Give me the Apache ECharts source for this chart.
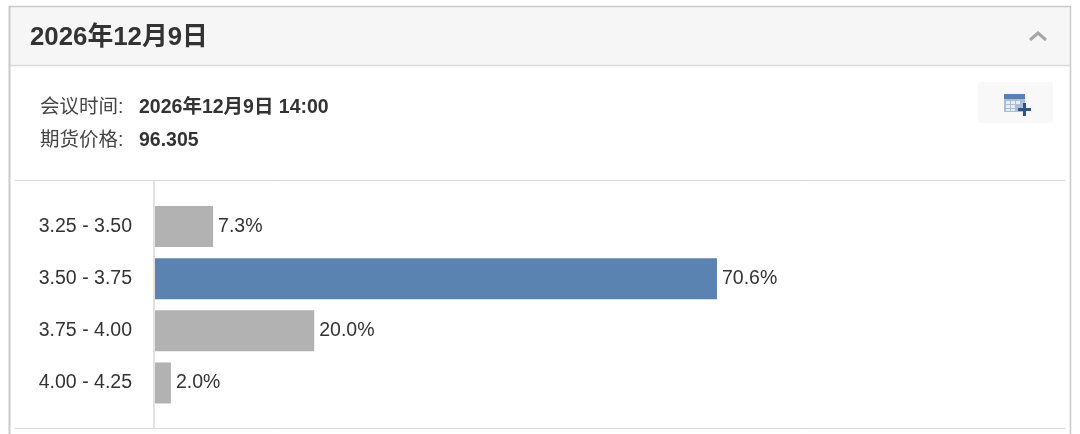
<!DOCTYPE html>
<html><head><meta charset="utf-8">
<style>html,body{margin:0;padding:0;background:#fff}#c{width:1080px;height:434px}</style>
<script src="https://cdn.jsdelivr.net/npm/echarts@6/dist/echarts.min.js"></script>
</head><body><div id="c"></div>
<script>
const categories = ['3.25 - 3.50','3.50 - 3.75','3.75 - 4.00','4.00 - 4.25'];
const probabilities = [7.3,70.6,20.0,2.0];
const highlighted = '3.50 - 3.75';
const titleText = '2026年12月9日';
const metaLabels = ['会议时间:','期货价格:'];
const metaValues = ['2026年12月9日 14:00','96.305'];
const FONT = '"Liberation Sans","Noto Sans CJK SC",sans-serif';
const line = (x1,y1,x2,y2,stroke,w) => ({type:'line',silent:true,shape:{x1,y1,x2,y2},style:{stroke,lineWidth:w||1}});
const rect = (x,y,width,height,fill,r) => ({type:'rect',silent:true,shape:{x,y,width,height,r:r||0},style:{fill}});
const text = (x,y,t,size,weight,fill) => ({type:'text',silent:true,x,y,style:{text:t,font:`${weight} ${size}px ${FONT}`,fill,verticalAlign:'middle'}});
const iconBlue='#5b7fae', iconDark='#2f5680';
const furniture = [
  rect(9,6,1061,59,'#f6f6f6'),
  line(9,6.5,1071,6.5,'#c9c9c9',1.5),
  line(9,65.5,1071,65.5,'#d9d9d9',1.5),
  line(9.5,6,9.5,434,'#c9c9c9',2),
  line(1070.5,6,1070.5,434,'#c9c9c9',1.5),
  text(30,38,titleText,25.8,'bold','#333'),
  text(40,108,metaLabels[0],19.5,'normal','#444'),
  text(40,141,metaLabels[1],19.5,'normal','#444'),
  text(139,108,metaValues[0],19.5,'bold','#333'),
  text(139,141,metaValues[1],19.5,'bold','#333'),
  {type:'polyline',silent:true,shape:{points:[[1030,40],[1038,33],[1046,40]]},style:{stroke:'#a6a6a6',lineWidth:3,fill:'none'}},
  rect(978,82,75,41,'#f8f8f8',3),
  rect(1004,94,21,5,iconBlue),
  rect(1004,99,21,13,'#a9bfd8'),
  rect(1006,101,4,3,'#e6edf5'),rect(1011,101,4,3,'#e6edf5'),rect(1016,101,4,3,'#e6edf5'),
  rect(1006,105,4,3,'#e6edf5'),rect(1011,105,4,3,'#e6edf5'),
  rect(1006,109,4,2,'#e6edf5'),rect(1011,109,4,2,'#e6edf5'),
  line(1024.5,103,1024.5,116,iconDark,3),
  line(1018,109.5,1031,109.5,iconDark,3),
  line(15,180.5,1065,180.5,'#d9d9d9',1),
  line(15,428.5,1065,428.5,'#d9d9d9',1),
  line(154,181,154,428,'#d9d9d9',1.5)
];
const chart = echarts.init(document.getElementById('c'),null,{renderer:'canvas'});
chart.setOption({
  animation:false,
  backgroundColor:'#fff',
  grid:{left:155,top:200.5,width:796,height:208.5,containLabel:false},
  xAxis:{type:'value',min:0,max:100,show:false},
  yAxis:{type:'category',inverse:true,data:categories,
    axisLine:{show:false},axisTick:{show:false},
    axisLabel:{margin:23,fontSize:19.5,color:'#333',fontFamily:FONT}},
  series:[{type:'bar',barWidth:41,
    data:probabilities.map((v,i)=>({value:v,itemStyle:{color:categories[i]===highlighted?'#5b83b1':'#b2b2b2'}})),
    label:{show:true,position:'right',distance:5,fontSize:19.5,color:'#333',fontFamily:FONT,
      formatter:p=>p.value.toFixed(1)+'%'}}],
  graphic:{elements:furniture}
});
</script></body></html>
